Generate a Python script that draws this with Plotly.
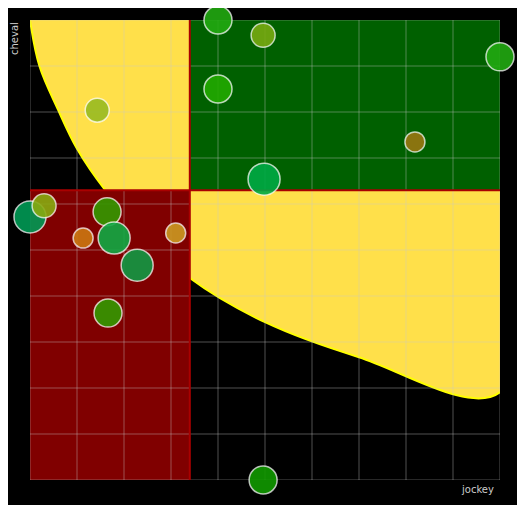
import plotly.graph_objects as go

# frontier curve (jockey, cheval)
curve_x = [0, 0.2, 0.6, 1.0, 1.6, 2.5, 3.4, 5.0, 7.0, 10.0]
curve_y = [10, 9.0, 8.04, 7.2, 6.3, 5.25, 4.39, 3.43, 2.67, 1.91]
split_x = 3.4
split_y = 6.3

# points
px = [4.0, 4.96, 10.0, 1.43, 4.0, 8.19, 4.98, 0.0, 0.3, 1.64, 1.13, 1.79, 3.1, 2.28, 1.66, 4.96]
py = [10.0, 9.67, 9.2, 8.04, 8.5, 7.35, 6.54, 5.72, 5.96, 5.83, 5.26, 5.26, 5.37, 4.67, 3.63, 0.0]
psize = [28, 24, 28, 24, 28, 20, 32, 32, 24, 28, 20, 32, 20, 32, 28, 28]
pcolor = ['#22aa11', '#77aa11', '#22aa11', '#99bb22', '#22aa00', '#997711', '#00aa44',
          '#009955', '#88aa11', '#339900', '#cc7711', '#11aa44', '#cc9922', '#119944',
          '#339900', '#119900']
grid_vals = list(range(11))

fig = go.Figure()
fig.add_trace(go.Scatter(x=curve_x + [10], y=curve_y + [10], fill='toself', mode='lines',
                         fillcolor='#ffe04a', line=dict(color='#ffff00', width=2, shape='spline')))
fig.add_trace(go.Scatter(x=[split_x, 10, 10, split_x, split_x], y=[split_y, split_y, 10, 10, split_y],
                         fill='toself', mode='none', fillcolor='#006000'))
fig.add_trace(go.Scatter(x=[0, split_x, split_x, 0, 0], y=[0, 0, split_y, split_y, 0],
                         fill='toself', mode='none', fillcolor='#800000'))
gx, gy = [], []
for v in grid_vals:
    gx += [v, v, None, 0, 10, None]
    gy += [0, 10, None, v, v, None]
fig.add_trace(go.Scatter(x=gx, y=gy, mode='lines', line=dict(color='rgba(200,200,200,0.4)', width=1)))
fig.add_trace(go.Scatter(x=[split_x, split_x, None, 0, 10], y=[0, 10, None, split_y, split_y],
                         mode='lines', line=dict(color='#aa0000', width=2)))
fig.add_trace(go.Scatter(x=px, y=py, mode='markers', cliponaxis=False,
                         marker=dict(size=psize, color=pcolor, opacity=0.9,
                                     line=dict(color='rgba(255,255,255,0.8)', width=1.5))))

ax = dict(range=[0, 10], showgrid=False, zeroline=False, showticklabels=False, fixedrange=True)
fig.update_layout(width=517, height=497, showlegend=False,
                  paper_bgcolor='#000000', plot_bgcolor='#000000',
                  margin=dict(l=22, r=25, t=12, b=25),
                  xaxis=ax, yaxis=ax,
                  annotations=[
                      dict(text='cheval', x=0, y=1, xref='paper', yref='paper', xanchor='right',
                           yanchor='top', xshift=-8, textangle=-90, showarrow=False,
                           font=dict(color='#cccccc', size=10, family='DejaVu Sans')),
                      dict(text='jockey', x=1, y=0, xref='paper', yref='paper', xanchor='right',
                           yanchor='top', xshift=-4, yshift=-2, showarrow=False,
                           font=dict(color='#cccccc', size=10, family='DejaVu Sans'))])
fig.write_html("out.html")
